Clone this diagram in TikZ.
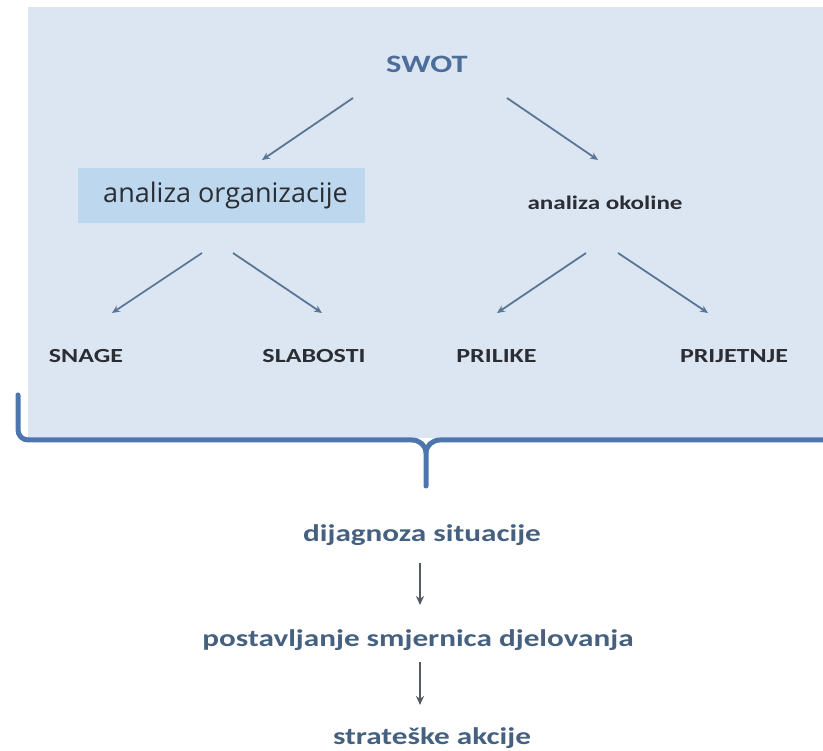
\documentclass[tikz,border=0pt]{standalone}
\usepackage{fontspec}
\usepackage{graphicx}
\setmainfont{Carlito}
\newfontfamily\osans{Open Sans}
\usetikzlibrary{arrows.meta}
\definecolor{panel}{HTML}{DCE6F2}
\definecolor{boxfill}{HTML}{BDD7EE}
\definecolor{arrowc}{HTML}{5A7697}
\definecolor{bracketc}{HTML}{4E76AE}
\definecolor{titlec}{HTML}{4D6E9A}
\definecolor{flowc}{HTML}{45617F}
\definecolor{darktext}{HTML}{2A2D33}
\definecolor{flowarr}{HTML}{555B63}
\newcommand\xw[1]{\scalebox{1.3}[1]{#1}}
\tikzset{
  arr/.style={draw=arrowc, line width=1.8pt, -{Stealth[length=8pt,width=7pt]}},
  darr/.style={draw=flowarr, line width=1.6pt, -{Stealth[length=9pt,width=8pt]}},
  lbl/.style={font=\fontsize{20}{22}\selectfont\bfseries, text=darktext, inner sep=0pt, anchor=base},
  flow/.style={font=\fontsize{24}{28}\selectfont\bfseries, text=flowc, inner sep=0pt, anchor=base},
  brk/.style={draw=bracketc, line width=5pt, line join=round, line cap=round},
}
\begin{document}
\begin{tikzpicture}[x=1pt,y=-1pt]
\useasboundingbox (0,0) rectangle (823,751);
\fill[white] (0,0) rectangle (823,751);
% panel
\fill[panel] (28,7) rectangle (823,438);
% bracket
\draw[brk] (18,395) -- (18,430) to[out=-90,in=180] (28,440) -- (412,440)
  to[out=0,in=90] (426,453) -- (426,486);
\draw[brk, line cap=butt] (426,453) to[out=90,in=180] (440,440) -- (825,440);
% nodes
\node[font=\fontsize{25}{28}\selectfont\bfseries, text=titlec, inner sep=0pt, anchor=base] (swot) at (427,73) {\xw{SWOT}};
\node[fill=boxfill, minimum width=287pt, minimum height=55pt, inner sep=0pt,
      font=\osans\fontsize{27}{30}\selectfont, text=darktext] (org) at (221.5,195.5) {\hspace{8pt}analiza organizacije};
\node[lbl, font=\fontsize{19.3}{22}\selectfont\bfseries] (env) at (605,210) {\xw{analiza okoline}};
\node[lbl] (s) at (86,363) {\xw{SNAGE}};
\node[lbl] (w) at (314,363) {\xw{SLABOSTI}};
\node[lbl] (o) at (496.5,363) {\xw{PRILIKE}};
\node[lbl] (t) at (734,363) {\xw{PRIJETNJE}};
\node[flow] (d1) at (422,542) {\xw{dijagnoza situacije}};
\node[flow] (d2) at (418,646) {\xw{postavljanje smjernica djelovanja}};
\node[flow] (d3) at (432,744) {\xw{strateške akcije}};
% arrow endpoints
\coordinate (a1s) at (353,98);  \coordinate (a1e) at (262,160);
\coordinate (a2s) at (507,98);  \coordinate (a2e) at (598,160);
\coordinate (b1s) at (202,253); \coordinate (b1e) at (112,313);
\coordinate (b2s) at (233,253); \coordinate (b2e) at (322,313);
\coordinate (c1s) at (586,253); \coordinate (c1e) at (497,313);
\coordinate (c2s) at (618,253); \coordinate (c2e) at (708,313);
\coordinate (f1s) at (420,563); \coordinate (f1e) at (420,605);
\coordinate (f2s) at (420,662); \coordinate (f2e) at (420,705);
\draw[arr] (a1s) -- (a1e);
\draw[arr] (a2s) -- (a2e);
\draw[arr] (b1s) -- (b1e);
\draw[arr] (b2s) -- (b2e);
\draw[arr] (c1s) -- (c1e);
\draw[arr] (c2s) -- (c2e);
\draw[darr] (f1s) -- (f1e);
\draw[darr] (f2s) -- (f2e);
\end{tikzpicture}
\end{document}
